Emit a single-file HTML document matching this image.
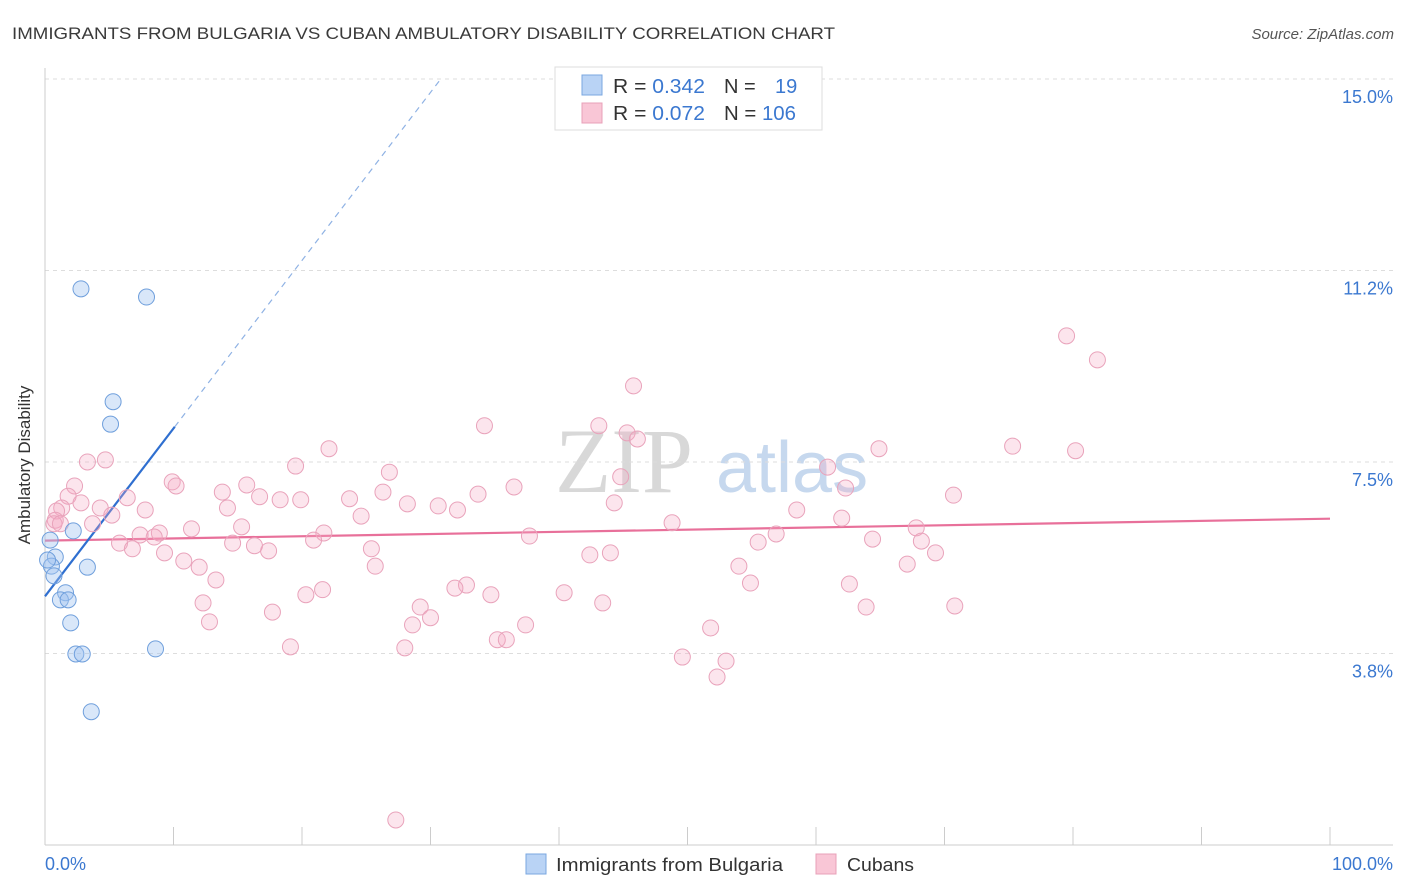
<!DOCTYPE html>
<html><head><meta charset="utf-8"><style>
body{margin:0;background:#fff;font-family:"Liberation Sans",sans-serif;}
svg{display:block}
</style></head><body>
<svg id="chart" width="1406" height="892" xmlns="http://www.w3.org/2000/svg">
<text x="12" y="39" font-size="17" fill="#3a3a3a" textLength="823" lengthAdjust="spacingAndGlyphs">IMMIGRANTS FROM BULGARIA VS CUBAN AMBULATORY DISABILITY CORRELATION CHART</text>
<text x="1394" y="39" font-size="15" fill="#555" font-style="italic" text-anchor="end">Source: ZipAtlas.com</text>
<g>
<text x="555" y="492" font-size="92" font-family="Liberation Serif,serif" fill="#d8d8d8">ZIP</text>
<text x="716" y="492" font-size="72" fill="#c6d8ee">atlas</text>
</g>
<g id="grid"></g>
<g id="axes"></g>
<g id="lines"></g>
<g id="pts"></g>
<text x="20" y="455" font-size="17" fill="#333" transform="rotate(-90 30 455)" text-anchor="middle">Ambulatory Disability</text>
<text x="45" y="870" font-size="18" fill="#3b78d0">0.0%</text>
<text x="1393" y="870" font-size="18" fill="#3b78d0" text-anchor="end">100.0%</text>
<g>
<rect x="555" y="67" width="267" height="63" fill="#fff" stroke="#ddd"/>
<rect x="582" y="75" width="20" height="20" fill="#b9d3f5" stroke="#7aa7e0"/>
<rect x="582" y="103" width="20" height="20" fill="#f9c6d6" stroke="#e8a0b8"/>
<text x="613" y="93" font-size="20" fill="#333" textLength="92" lengthAdjust="spacingAndGlyphs">R = <tspan fill="#3b78d0">0.342</tspan></text>
<text x="724" y="93" font-size="20" fill="#333">N = <tspan fill="#3b78d0" x="775">19</tspan></text>
<text x="613" y="120" font-size="20" fill="#333" textLength="92" lengthAdjust="spacingAndGlyphs">R = <tspan fill="#3b78d0">0.072</tspan></text>
<text x="724" y="120" font-size="20" fill="#333" textLength="72" lengthAdjust="spacingAndGlyphs">N = <tspan fill="#3b78d0">106</tspan></text>
</g>
<g>
<rect x="526" y="854" width="20" height="20" fill="#b9d3f5" stroke="#7aa7e0"/>
<text x="556" y="871" font-size="18" fill="#333" textLength="227" lengthAdjust="spacingAndGlyphs">Immigrants from Bulgaria</text>
<rect x="816" y="854" width="20" height="20" fill="#f9c6d6" stroke="#e8a0b8"/>
<text x="847" y="871" font-size="18" fill="#333" textLength="67" lengthAdjust="spacingAndGlyphs">Cubans</text>
</g>
</svg>
<script>
const yTicks=[15.0,11.25,7.5,3.75];
const yTickLabels=["15.0%","11.2%","7.5%","3.8%"];
const xTicks=[0,10,20,30,40,50,60,70,80,90,100];
const blueX=[2.8,7.9,5.3,5.1,2.2,0.8,0.5,0.7,3.3,1.6,1.2,1.8,2.0,2.4,2.9,8.6,3.6,0.4,0.2];
const blueY=[10.89,10.73,8.68,8.24,6.15,5.64,5.46,5.27,5.44,4.94,4.80,4.80,4.35,3.74,3.74,3.84,2.61,5.97,5.58];
const pinkX=[79.5,81.9,45.8,34.2,43.1,45.3,46.1,22.1,64.9,75.3,80.2,3.3,4.7,26.8,19.5,60.9,44.8,9.9,10.2,15.7,2.3,36.5,62.3,13.8,26.3,33.7,70.7,1.8,6.4,16.7,18.3,19.9,23.7,2.8,28.2,44.3,30.6,32.1,1.3,7.8,4.3,0.9,14.2,24.6,5.2,58.5,0.8,0.7,1.2,48.8,62.0,3.7,11.4,15.3,8.9,8.5,21.7,67.8,7.4,37.7,20.9,14.6,5.8,56.9,55.5,64.4,68.2,6.8,9.3,17.4,16.3,25.4,42.4,44.0,69.3,10.8,12.0,25.7,54.0,67.1,13.3,54.9,62.6,32.8,31.9,21.6,20.3,40.4,34.7,12.3,29.2,43.4,63.9,70.8,17.7,30.0,28.6,12.8,37.4,51.8,35.2,35.9,19.1,28.0,49.6,53.0,52.3,27.3];
const pinkY=[9.97,9.50,8.99,8.21,8.21,8.07,7.95,7.76,7.76,7.81,7.72,7.50,7.54,7.30,7.42,7.40,7.21,7.11,7.03,7.05,7.03,7.01,6.99,6.91,6.91,6.87,6.85,6.83,6.80,6.82,6.76,6.76,6.78,6.70,6.68,6.70,6.64,6.56,6.60,6.56,6.60,6.54,6.60,6.44,6.46,6.56,6.36,6.29,6.29,6.31,6.40,6.29,6.19,6.23,6.11,6.03,6.11,6.21,6.07,6.05,5.97,5.91,5.91,6.09,5.93,5.99,5.95,5.80,5.72,5.76,5.86,5.80,5.68,5.72,5.72,5.56,5.44,5.46,5.46,5.50,5.19,5.13,5.11,5.09,5.03,5.00,4.90,4.94,4.90,4.74,4.66,4.74,4.66,4.68,4.56,4.45,4.31,4.37,4.31,4.25,4.02,4.02,3.88,3.86,3.68,3.60,3.29,0.49];
const blueLine=[0,4.87,10.1,8.19,30.8,15.0];
const pinkLine=[0,5.96,100,6.39];
const NS="http://www.w3.org/2000/svg";
const sx=v=>45+v*12.85;
const sy=v=>845-v*51.07;
function mk(tag,attrs,parent){const e=document.createElementNS(NS,tag);for(const k in attrs)e.setAttribute(k,attrs[k]);document.getElementById(parent).appendChild(e);return e;}
yTicks.forEach((t,i)=>{
 const g=mk('line',{x1:45,x2:1393,y1:sy(t),y2:sy(t),stroke:'#ddd','stroke-dasharray':'4,4'},'grid');
 
 
 const l=mk('text',{x:1393,y:sy(t)+24,'font-size':18,fill:'#3b78d0','text-anchor':'end'},'axes');
 l.textContent=yTickLabels[i];
 
 
});
const ax=mk('line',{x1:45,x2:1393,y1:845,y2:845,stroke:'#ccc'},'axes');


const ay=mk('line',{x1:45,x2:45,y1:68,y2:845,stroke:'#ccc'},'axes');


xTicks.forEach(t=>{
 const k=mk('line',{x1:sx(t),x2:sx(t),y1:827,y2:845,stroke:'#ccc'},'axes');
 
 
});
pinkX.forEach((x,i)=>{
 const c=mk('circle',{cx:sx(x),cy:sy(pinkY[i]),r:8,fill:'rgba(244,170,196,0.3)',stroke:'#e9a3bb','stroke-width':1},'pts');
 
 
});
blueX.forEach((x,i)=>{
 const c=mk('circle',{cx:sx(x),cy:sy(blueY[i]),r:8,fill:'rgba(160,195,240,0.4)',stroke:'#6f9fdc','stroke-width':1},'pts');
 
 
});
const pl=mk('line',{x1:sx(pinkLine[0]),y1:sy(pinkLine[1]),x2:sx(pinkLine[2]),y2:sy(pinkLine[3]),stroke:'#e8709a','stroke-width':2.2},'lines');


const bl=mk('line',{x1:sx(blueLine[0]),y1:sy(blueLine[1]),x2:sx(blueLine[2]),y2:sy(blueLine[3]),stroke:'#2f6fd0','stroke-width':2.2},'lines');


const bd=mk('line',{x1:sx(blueLine[2]),y1:sy(blueLine[3]),x2:sx(blueLine[4]),y2:sy(blueLine[5]),stroke:'#8fb2e4','stroke-width':1.2,'stroke-dasharray':'6,5'},'lines');


</script>
</body></html>
